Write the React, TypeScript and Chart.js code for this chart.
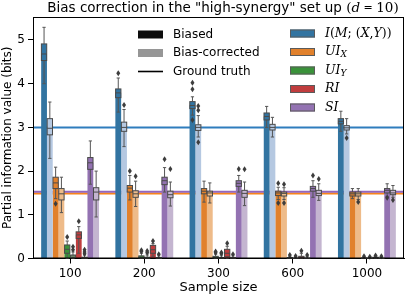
import React, { useEffect, useRef } from "react";
import { Chart, registerables } from "chart.js";
Chart.register(...registerables);

const W = 407;
const H = 297;

// ---------- data ----------
const sampleSizes = ["100", "200", "300", "600", "1000"];
const yTickValues = [0, 1, 2, 3, 4, 5];
const yMax = 5.526;

// box stats per sample size: [lowerWhisker, q1, median, q3, upperWhisker]
const iBiasedBox = [
  [4.0, 4.53, 4.68, 4.91, 5.29],
  [3.35, 3.68, 3.79, 3.88, 4.13],
  [3.28, 3.43, 3.5, 3.59, 3.7],
  [3.0, 3.17, 3.25, 3.33, 3.48],
  [2.91, 3.08, 3.14, 3.2, 3.37],
];
const iBiasedOut = [[], [4.24], [4.02, 3.87, 3.17], [], []];
const iCorrBox = [
  [2.29, 2.83, 2.98, 3.2, 3.58],
  [2.56, 2.91, 3.0, 3.12, 3.41],
  [2.78, 2.93, 3.0, 3.06, 3.27],
  [2.78, 2.94, 3.0, 3.07, 3.23],
  [2.85, 2.94, 2.99, 3.04, 3.2],
];
const iCorrOut = [[], [3.51], [3.49, 3.39, 2.66], [], [2.76]];

const uixBiasedBox = [
  [1.37, 1.6, 1.73, 1.86, 2.09],
  [1.34, 1.52, 1.61, 1.67, 1.9],
  [1.29, 1.48, 1.54, 1.6, 1.77],
  [1.35, 1.44, 1.5, 1.54, 1.63],
  [1.37, 1.43, 1.48, 1.52, 1.6],
];
const uixBiasedOut = [[1.25], [2.0], [], [1.72, 1.27], []];
const uixCorrBox = [
  [1.05, 1.34, 1.48, 1.6, 1.86],
  [1.19, 1.4, 1.48, 1.55, 1.77],
  [1.27, 1.43, 1.5, 1.54, 1.73],
  [1.35, 1.43, 1.49, 1.52, 1.62],
  [1.35, 1.43, 1.48, 1.52, 1.6],
];
const uixCorrOut = [[], [1.88], [], [1.7, 1.27], [1.29]];

const uiyBiasedBox = [
  [0.0, 0.12, 0.21, 0.31, 0.4],
  [0.0, 0.01, 0.03, 0.06, 0.12],
  [0.0, 0.01, 0.03, 0.05, 0.1],
  [0.0, 0.0, 0.01, 0.02, 0.05],
  [0.0, 0.0, 0.01, 0.01, 0.03],
];
const uiyBiasedOut = [[0.49], [0.19, 0.16], [0.16, 0.13], [0.08], [0.05]];
const uiyCorrBox = [
  [0.0, 0.03, 0.06, 0.08, 0.15],
  [0.0, 0.0, 0.01, 0.03, 0.08],
  [0.0, 0.0, 0.01, 0.02, 0.06],
  [0.0, 0.0, 0.0, 0.01, 0.03],
  [0.0, 0.0, 0.0, 0.01, 0.02],
];
const uiyCorrOut = [[0.27, 0.2], [0.17, 0.13], [0.14, 0.11], [0.06], [0.04]];

const riBiasedBox = [
  [0.12, 0.46, 0.54, 0.61, 0.73],
  [0.05, 0.12, 0.2, 0.3, 0.34],
  [0.0, 0.04, 0.12, 0.21, 0.28],
  [0.0, 0.01, 0.03, 0.05, 0.12],
  [0.0, 0.01, 0.02, 0.03, 0.05],
];
const riBiasedOut = [[0.85], [0.4], [0.35], [0.18], [0.07]];
const riCorrBox = [
  [0.0, 0.0, 0.01, 0.03, 0.08],
  [0.0, 0.0, 0.0, 0.02, 0.06],
  [0.0, 0.0, 0.0, 0.02, 0.06],
  [0.0, 0.0, 0.0, 0.01, 0.04],
  [0.0, 0.0, 0.0, 0.01, 0.03],
];
const riCorrOut = [[0.2, 0.15, 0.11], [0.1], [0.1], [0.08], [0.05]];

const siBiasedBox = [
  [1.7, 2.04, 2.19, 2.31, 2.69],
  [1.52, 1.69, 1.78, 1.86, 2.08],
  [1.52, 1.65, 1.72, 1.78, 1.9],
  [1.4, 1.54, 1.6, 1.65, 1.78],
  [1.42, 1.5, 1.56, 1.6, 1.71],
];
const siBiasedOut = [[], [2.27], [2.05], [1.9], [1.39]];
const siCorrBox = [
  [0.95, 1.34, 1.52, 1.62, 2.0],
  [1.2, 1.39, 1.46, 1.54, 1.75],
  [1.21, 1.4, 1.49, 1.56, 1.75],
  [1.33, 1.44, 1.49, 1.56, 1.71],
  [1.4, 1.46, 1.5, 1.56, 1.67],
];
const siCorrOut = [[], [2.05], [2.04], [1.82], [1.34]];

// ground truth values (UI_Y and RI are 0, hidden by the x axis)
const truthI = 3.0;
const truthUIX = 1.49;
const truthSI = 1.53;

// ---------- styles ----------
const dark = ["#3274a1", "#e1812c", "#3a923a", "#c03d3e", "#9372b2"];
const light = ["#b5c8e1", "#eebb89", "#9fd495", "#f2a5a3", "#c4b5d0"];
const truthColors = ["#2f7dbd", "#f7841c", "#2ca02c", "#d62728", "#9467bd"];

const series = [
  { box: iBiasedBox, out: iBiasedOut, color: dark[0] },
  { box: iCorrBox, out: iCorrOut, color: light[0] },
  { box: uixBiasedBox, out: uixBiasedOut, color: dark[1] },
  { box: uixCorrBox, out: uixCorrOut, color: light[1] },
  { box: uiyBiasedBox, out: uiyBiasedOut, color: dark[2] },
  { box: uiyCorrBox, out: uiyCorrOut, color: light[2] },
  { box: riBiasedBox, out: riBiasedOut, color: dark[3] },
  { box: riCorrBox, out: riCorrOut, color: light[3] },
  { box: siBiasedBox, out: siBiasedOut, color: dark[4] },
  { box: siCorrBox, out: siCorrOut, color: light[4] },
];

const truths = [
  { v: truthI, c: truthColors[0] },
  { v: truthUIX, c: truthColors[1] },
  { v: truthSI, c: truthColors[4] },
];

const SANS = "'DejaVu Sans', sans-serif";
const SERIF = "'DejaVu Serif', serif";

type Seg = { t: string; font: string; dy?: number };

function drawSegs(ctx: CanvasRenderingContext2D, segs: Seg[], x: number, y: number, align: "left" | "center") {
  let total = 0;
  for (const s of segs) {
    ctx.font = s.font;
    total += ctx.measureText(s.t).width;
  }
  let cx = align === "center" ? x - total / 2 : x;
  ctx.textAlign = "left";
  ctx.textBaseline = "middle";
  for (const s of segs) {
    ctx.font = s.font;
    ctx.fillText(s.t, cx, y + (s.dy || 0));
    cx += ctx.measureText(s.t).width;
  }
}

const boxPlugin = {
  id: "boxes",
  beforeDatasetsDraw(chart: any) {
    const ctx = chart.ctx as CanvasRenderingContext2D;
    const ys = chart.scales.y;
    const a = chart.chartArea;
    ctx.save();
    ctx.lineWidth = 2;
    for (const t of truths) {
      const py = ys.getPixelForValue(t.v);
      ctx.strokeStyle = t.c;
      ctx.beginPath();
      ctx.moveTo(a.left, py);
      ctx.lineTo(a.right, py);
      ctx.stroke();
    }
    ctx.restore();
  },
  afterDatasetsDraw(chart: any) {
    const ctx = chart.ctx as CanvasRenderingContext2D;
    const ys = chart.scales.y;
    ctx.save();
    series.forEach((s, i) => {
      const meta = chart.getDatasetMeta(i);
      meta.data.forEach((bar: any, j: number) => {
        const [lo, q1, med, q3, hi] = s.box[j];
        const x = bar.x;
        const w = bar.width;
        const pLo = ys.getPixelForValue(lo);
        const pQ1 = ys.getPixelForValue(q1);
        const pMed = ys.getPixelForValue(med);
        const pQ3 = ys.getPixelForValue(q3);
        const pHi = ys.getPixelForValue(hi);
        ctx.strokeStyle = "#555555";
        ctx.lineWidth = 1;
        ctx.beginPath();
        ctx.moveTo(x, pHi);
        ctx.lineTo(x, pQ3);
        ctx.moveTo(x, pQ1);
        ctx.lineTo(x, pLo);
        const cw = w * 0.28;
        ctx.moveTo(x - cw, pHi);
        ctx.lineTo(x + cw, pHi);
        ctx.moveTo(x - cw, pLo);
        ctx.lineTo(x + cw, pLo);
        ctx.stroke();
        const bw = w * 0.92;
        ctx.fillStyle = s.color;
        ctx.fillRect(x - bw / 2, pQ3, bw, pQ1 - pQ3);
        ctx.strokeStyle = "#4a4a4a";
        ctx.strokeRect(x - bw / 2, pQ3, bw, pQ1 - pQ3);
        ctx.beginPath();
        ctx.moveTo(x - bw / 2, pMed);
        ctx.lineTo(x + bw / 2, pMed);
        ctx.stroke();
        ctx.fillStyle = "#3d3d3d";
        for (const o of s.out[j]) {
          const py = ys.getPixelForValue(o);
          ctx.beginPath();
          ctx.moveTo(x, py - 3);
          ctx.lineTo(x + 2, py);
          ctx.lineTo(x, py + 3);
          ctx.lineTo(x - 2, py);
          ctx.closePath();
          ctx.fill();
        }
      });
    });
    ctx.restore();
  },
  afterDraw(chart: any) {
    const ctx = chart.ctx as CanvasRenderingContext2D;
    const a = chart.chartArea;
    ctx.save();
    // frame
    ctx.strokeStyle = "#000";
    ctx.lineWidth = 1;
    ctx.strokeRect(a.left + 0.5, a.top + 0.5, a.right - a.left - 1, a.bottom - a.top - 1);

    ctx.fillStyle = "#000";
    // title
    drawSegs(
      ctx,
      [
        { t: 'Bias correction in the "high-synergy" set up ', font: `13.5px ${SANS}` },
        { t: "(", font: `13.5px ${SERIF}` },
        { t: "d", font: `italic 13.5px ${SERIF}` },
        { t: " = ", font: `11px ${SERIF}` },
        { t: "10)", font: `13.5px ${SERIF}` },
      ],
      223,
      8,
      "center"
    );
    // axis titles
    ctx.font = `13px ${SANS}`;
    ctx.textAlign = "center";
    ctx.textBaseline = "middle";
    ctx.fillText("Sample size", (a.left + a.right) / 2, 288);
    ctx.save();
    ctx.translate(8, (a.top + a.bottom) / 2);
    ctx.rotate(-Math.PI / 2);
    ctx.font = `12px ${SANS}`;
    ctx.fillText("Partial information value (bits)", 0, 0);
    ctx.restore();

    // legend left column
    const lx = 138;
    const rows1 = [34.5, 53, 71.5];
    ctx.fillStyle = "#0d0d0d";
    ctx.fillRect(lx, rows1[0] - 4, 25, 8);
    ctx.fillStyle = "#969696";
    ctx.fillRect(lx, rows1[1] - 4, 25, 8);
    ctx.strokeStyle = "#000";
    ctx.lineWidth = 1.6;
    ctx.beginPath();
    ctx.moveTo(lx, rows1[2]);
    ctx.lineTo(lx + 25, rows1[2]);
    ctx.stroke();
    ctx.fillStyle = "#000";
    ctx.font = `12px ${SANS}`;
    ctx.textAlign = "left";
    ctx.fillText("Biased", 173, rows1[0]);
    ctx.fillText("Bias-corrected", 173, rows1[1]);
    ctx.fillText("Ground truth", 173, rows1[2]);

    // legend right column
    const rx = 290;
    const rows2 = [33.5, 52, 70.5, 89, 107.5];
    ctx.lineWidth = 1;
    rows2.forEach((ry, k) => {
      ctx.fillStyle = dark[k];
      ctx.fillRect(rx, ry - 4, 25, 8);
      ctx.strokeStyle = "#5a5a5a";
      ctx.strokeRect(rx + 0.5, ry - 3.5, 24, 7);
    });
    ctx.fillStyle = "#000";
    const it = `italic 12.5px ${SERIF}`;
    const up = `12.5px ${SERIF}`;
    const sub = `italic 9px ${SERIF}`;
    const tx = 325;
    drawSegs(ctx, [
      { t: "I", font: it }, { t: "(", font: up }, { t: "M", font: it }, { t: "; ", font: up },
      { t: "(", font: up }, { t: "X", font: it }, { t: ",", font: up }, { t: "Y", font: it }, { t: "))", font: up },
    ], tx, rows2[0], "left");
    drawSegs(ctx, [{ t: "UI", font: it }, { t: "X", font: sub, dy: 3 }], tx, rows2[1], "left");
    drawSegs(ctx, [{ t: "UI", font: it }, { t: "Y", font: sub, dy: 3 }], tx, rows2[2], "left");
    drawSegs(ctx, [{ t: "RI", font: it }], tx, rows2[3], "left");
    drawSegs(ctx, [{ t: "SI", font: it }], tx, rows2[4], "left");
    ctx.restore();
  },
};

export default function App() {
  const ref = useRef<HTMLCanvasElement>(null);
  useEffect(() => {
    const chart = new Chart(ref.current as HTMLCanvasElement, {
      type: "bar",
      data: {
        labels: sampleSizes,
        datasets: series.map((s) => ({
          data: s.box.map((b) => b[2]),
          backgroundColor: s.color,
          borderWidth: 0,
          categoryPercentage: 0.78,
          barPercentage: 1.0,
        })),
      },
      options: {
        animation: false,
        responsive: false,
        devicePixelRatio: 1,
        events: [],
        layout: { padding: { left: 0, top: 17, right: 3, bottom: 0 } },
        plugins: { legend: { display: false }, title: { display: false }, tooltip: { enabled: false } },
        scales: {
          x: {
            type: "category",
            offset: true,
            afterFit: (s: any) => { s.height = 38.5; },
            grid: { display: true, drawOnChartArea: false, drawTicks: true, tickLength: 5, offset: false, color: "#000" },
            border: { display: true, color: "#000", width: 1 },
            ticks: { color: "#000", font: { family: "'DejaVu Sans', sans-serif", size: 12 }, padding: 3, maxRotation: 0 },
          },
          y: {
            type: "linear",
            min: 0,
            max: yMax,
            afterFit: (s: any) => { s.width = 33; },
            afterBuildTicks: (s: any) => { s.ticks = yTickValues.map((v) => ({ value: v })); },
            grid: { display: true, drawOnChartArea: false, drawTicks: true, tickLength: 5, color: "#000" },
            border: { display: true, color: "#000", width: 1 },
            ticks: { color: "#000", font: { family: "'DejaVu Sans', sans-serif", size: 12 }, padding: 3, includeBounds: false },
          },
        },
      },
      plugins: [boxPlugin],
    } as any);
    return () => chart.destroy();
  }, []);
  return (
    <div style={{ position: "fixed", left: 0, top: 0, width: W, height: H, background: "#fff" }}>
      <canvas ref={ref} width={W} height={H} style={{ width: W, height: H, display: "block" }} />
    </div>
  );
}
